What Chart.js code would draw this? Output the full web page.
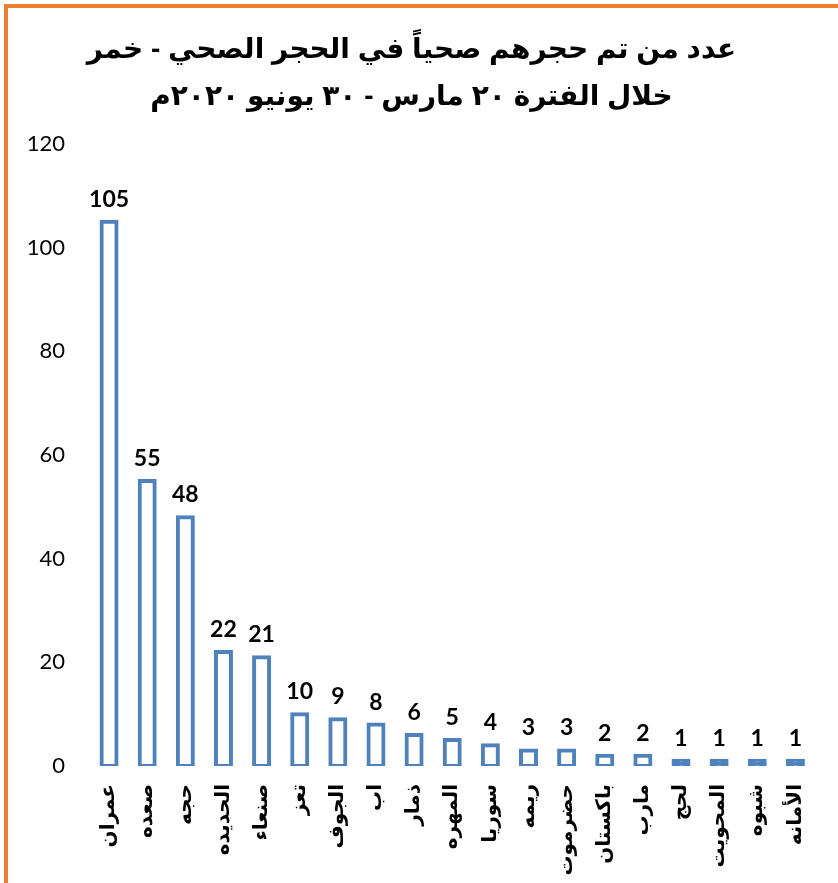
<!DOCTYPE html>
<html>
<head>
<meta charset="utf-8">
<script src="https://cdn.jsdelivr.net/npm/chart.js@4"></script>
<style>
  html, body { margin: 0; padding: 0; background: #fff; }
  #frame {
    position: absolute; left: 4px; top: 4px; width: 834px; height: 879px;
    border-top: 4px solid #ED7D31; border-left: 4px solid #ED7D31;
    box-sizing: border-box; background: #fff;
  }
  #box { position: absolute; left: 0; top: 0; width: 830px; height: 875px; }
</style>
</head>
<body>
<div id="frame"><div id="box"><canvas id="myChart"></canvas></div></div>
<script>
const titleLines = ['عدد من تم حجرهم صحياً في الحجر الصحي - خمر', 'خلال الفترة ٢٠ مارس - ٣٠ يونيو ٢٠٢٠م']
const governorates = ['عمران', 'صعده', 'حجه', 'الحديده', 'صنعاء', 'تعز', 'الجوف', 'اب', 'ذمار', 'المهره',
    'سوريا', 'ريمه', 'حضرموت', 'باكستان', 'مارب', 'لحج', 'المحويت', 'شبوه', 'الأمانه']
const quarantined = [105, 55, 48, 22, 21, 10, 9, 8, 6, 5, 4, 3, 3, 2, 2, 1, 1, 1, 1]
const yTicks = [0, 20, 40, 60, 80, 100, 120]

const barBlue = '#4F81BD'

const barLabels = {
    id: 'bar_labels',
    afterDatasetsDraw: (chart) => {
        const {ctx} = chart
        ctx.save()
        ctx.font = 'bold 23px Lato'
        ctx.fillStyle = '#000'
        ctx.textAlign = 'center'
        ctx.textBaseline = 'alphabetic'
        const meta = chart.getDatasetMeta(0)
        meta.data.forEach((bar, i) => {
            ctx.fillText(String(quarantined[i]), bar.x, bar.y - 15)
        })
        ctx.restore()
    }
}

const ctx = document.getElementById('myChart').getContext('2d')
new Chart(ctx, {
    type: 'bar',
    data: {
        labels: governorates,
        datasets: [{
            data: quarantined,
            // a 4px outline leaves no room inside the shortest bars
            backgroundColor: c => (c.raw < 2 ? barBlue : '#ffffff'),
            borderColor: barBlue,
            borderWidth: 4,
            borderSkipped: false,
            inflateAmount: 2,
            barThickness: 15
        }]
    },
    options: {
        responsive: true,
        maintainAspectRatio: false,
        animation: false,
        layout: { padding: { left: 0, right: 23, top: 0, bottom: 0 } },
        plugins: {
            legend: { display: false },
            tooltip: { enabled: false },
            title: {
                display: true,
                text: titleLines,
                color: '#000',
                font: { family: "'Liberation Sans', 'DejaVu Sans', sans-serif", size: 28, weight: 'bold', lineHeight: 1.68 },
                padding: { top: 19, bottom: 23 }
            }
        },
        scales: {
            x: {
                grid: { display: false, drawTicks: false },
                border: { display: false },
                ticks: {
                    color: '#000',
                    autoSkip: false,
                    minRotation: 90,
                    maxRotation: 90,
                    padding: 18,
                    font: { family: "'DejaVu Sans', sans-serif", size: 20, weight: 'bold' }
                },
                afterFit: s => { s.height = 117 }
            },
            y: {
                min: 0,
                max: 120,
                grid: { display: false, drawTicks: false },
                border: { display: false },
                afterBuildTicks: s => { s.ticks = yTicks.map(v => ({ value: v })) },
                ticks: {
                    color: '#000',
                    padding: 25,
                    font: { family: 'Lato', size: 22 }
                },
                afterFit: s => { s.width = 82 }
            }
        }
    },
    plugins: [barLabels]
})
</script>
</body>
</html>
